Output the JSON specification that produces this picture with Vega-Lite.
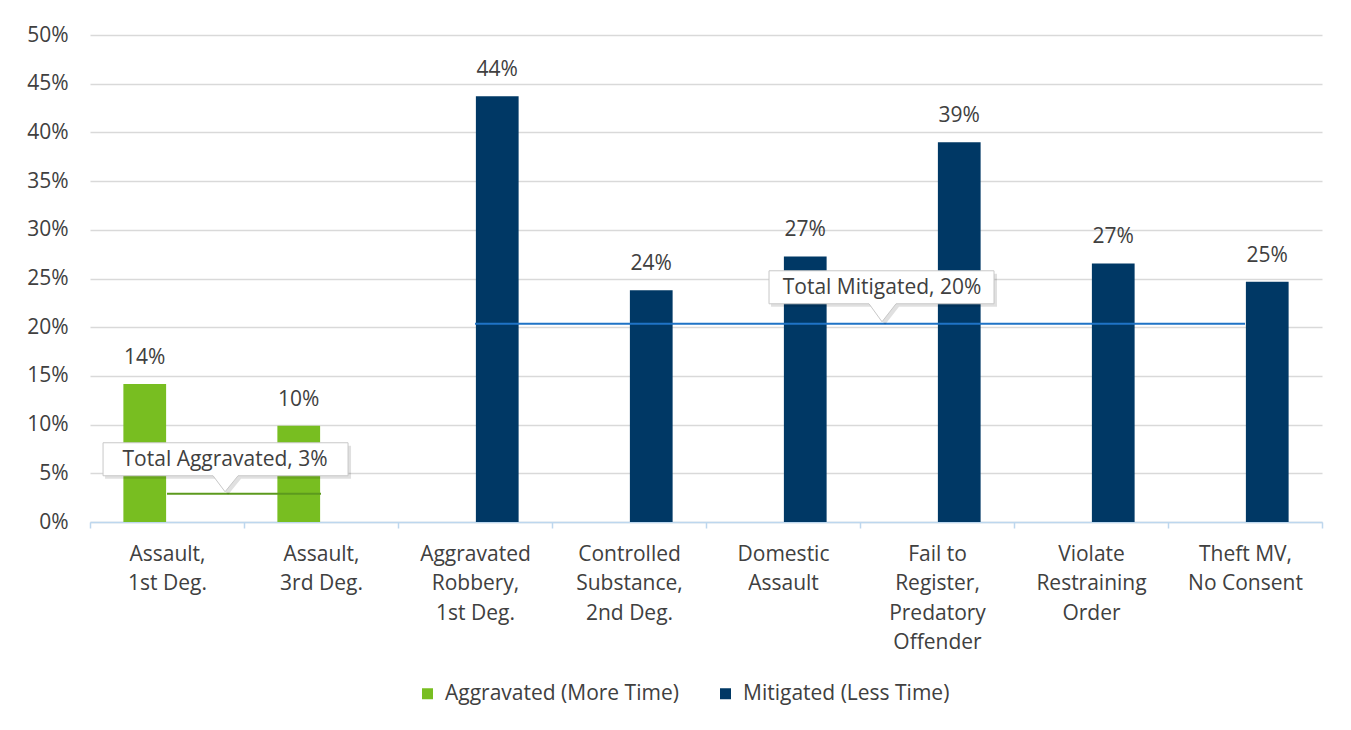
{
  "$schema": "https://vega.github.io/schema/vega-lite/v6.json",
  "width": 1232,
  "height": 487,
  "autosize": {"type": "none"},
  "padding": {"left": 90, "top": 35, "right": 29, "bottom": 208},
  "background": "white",
  "config": {"view": {"stroke": null}, "font": "Open Sans"},
  "datasets": {
    "bars": [
      {"category": "Assault,\n1st Deg.", "series": "Aggravated (More Time)", "value": 0.1417},
      {"category": "Assault,\n3rd Deg.", "series": "Aggravated (More Time)", "value": 0.0989},
      {"category": "Aggravated\nRobbery,\n1st Deg.", "series": "Mitigated (Less Time)", "value": 0.437},
      {"category": "Controlled\nSubstance,\n2nd Deg.", "series": "Mitigated (Less Time)", "value": 0.238},
      {"category": "Domestic\nAssault", "series": "Mitigated (Less Time)", "value": 0.2727},
      {"category": "Fail to\nRegister,\nPredatory\nOffender", "series": "Mitigated (Less Time)", "value": 0.39},
      {"category": "Violate\nRestraining\nOrder", "series": "Mitigated (Less Time)", "value": 0.2655},
      {"category": "Theft MV,\nNo Consent", "series": "Mitigated (Less Time)", "value": 0.2467}
    ],
    "totals": [
      {"category": "Assault,\n1st Deg.", "series": "Total Aggravated", "value": 0.029},
      {"category": "Assault,\n3rd Deg.", "series": "Total Aggravated", "value": 0.029},
      {"category": "Aggravated\nRobbery,\n1st Deg.", "series": "Total Mitigated", "value": 0.2035},
      {"category": "Controlled\nSubstance,\n2nd Deg.", "series": "Total Mitigated", "value": 0.2035},
      {"category": "Domestic\nAssault", "series": "Total Mitigated", "value": 0.2035},
      {"category": "Fail to\nRegister,\nPredatory\nOffender", "series": "Total Mitigated", "value": 0.2035},
      {"category": "Violate\nRestraining\nOrder", "series": "Total Mitigated", "value": 0.2035},
      {"category": "Theft MV,\nNo Consent", "series": "Total Mitigated", "value": 0.2035}
    ],
    "callouts": [
      {"category": "Assault,\n1st Deg.", "series": "Total Aggravated", "value": 0.029, "label": "Total Aggravated, 3%"},
      {"category": "Fail to\nRegister,\nPredatory\nOffender", "series": "Total Mitigated", "value": 0.2035, "label": "Total Mitigated, 20%"}
    ]
  },
  "encoding": {
    "x": {
      "field": "category",
      "type": "nominal",
      "scale": {
        "domain": ["Assault,\n1st Deg.", "Assault,\n3rd Deg.", "Aggravated\nRobbery,\n1st Deg.", "Controlled\nSubstance,\n2nd Deg.", "Domestic\nAssault", "Fail to\nRegister,\nPredatory\nOffender", "Violate\nRestraining\nOrder", "Theft MV,\nNo Consent"],
        "paddingInner": 0,
        "paddingOuter": 0
      },
      "axis": {
        "title": null,
        "labelAngle": 0,
        "labelExpr": "split(datum.label, '\\n')",
        "labelFont": "Open Sans",
        "labelFontSize": 21,
        "labelLineHeight": 29.5,
        "labelColor": "#404040",
        "labelPadding": 15,
        "labelLimit": 300,
        "tickBand": "extent",
        "tickSize": 6,
        "tickColor": "#BDD7EE",
        "tickWidth": 1.5,
        "domainColor": "#BDD7EE",
        "domainWidth": 1.5,
        "grid": false
      }
    },
    "y": {
      "field": "value",
      "type": "quantitative",
      "scale": {"domain": [0, 0.5]},
      "axis": {
        "title": null,
        "format": ".0%",
        "values": [0, 0.05, 0.1, 0.15, 0.2, 0.25, 0.3, 0.35, 0.4, 0.45, 0.5],
        "domain": false,
        "ticks": false,
        "tickSize": 0,
        "labelPadding": 22,
        "labelFont": "Open Sans",
        "labelFontSize": 21,
        "labelColor": "#404040",
        "gridColor": "#D9D9D9",
        "gridWidth": 1.5
      }
    }
  },
  "layer": [
    {
      "data": {"name": "bars"},
      "mark": {"type": "bar"},
      "encoding": {
        "xOffset": {
          "field": "series",
          "type": "nominal",
          "scale": {"domain": ["Aggravated (More Time)", "Mitigated (Less Time)"], "paddingInner": 0.04, "paddingOuter": 0.75}
        },
        "color": {
          "field": "series",
          "type": "nominal",
          "scale": {"domain": ["Aggravated (More Time)", "Mitigated (Less Time)"], "range": ["#78BE21", "#003865"]},
          "legend": {
            "orient": "none",
            "legendX": 327,
            "legendY": 648,
            "direction": "horizontal",
            "title": null,
            "symbolType": "square",
            "symbolSize": 121,
            "symbolStrokeWidth": 0,
            "labelFont": "Open Sans",
            "labelFontSize": 21,
            "labelColor": "#404040",
            "labelOffset": 7,
            "labelLimit": 400,
            "columnPadding": 36
          }
        }
      }
    },
    {
      "data": {"name": "bars"},
      "mark": {"type": "text", "dy": -20, "baseline": "alphabetic", "fontSize": 21, "color": "#404040", "font": "Open Sans"},
      "encoding": {
        "xOffset": {"field": "series", "type": "nominal"},
        "text": {"field": "value", "type": "quantitative", "format": ".0%"}
      }
    },
    {
      "data": {"name": "totals"},
      "mark": {"type": "line", "strokeWidth": 2},
      "encoding": {
        "stroke": {
          "field": "series",
          "type": "nominal",
          "scale": {"domain": ["Total Aggravated", "Total Mitigated"], "range": ["#5C9A1E", "#1F73C6"]},
          "legend": null
        }
      }
    },
    {
      "data": {"name": "callouts"},
      "transform": [{"filter": "datum.series === 'Total Aggravated'"}],
      "encoding": {
        "x": {"field": "category", "type": "nominal", "bandPosition": 0.877, "axis": {"title": null}}
      },
      "layer": [
        {
          "mark": {"type": "point", "filled": true, "fill": "#000000", "opacity": 0.12, "strokeWidth": 0, "size": 40000, "shape": "M-1.2,-0.48 L1.26,-0.48 L1.26,-0.15 L0.16,-0.15 L0.03,0.01 L-0.09,-0.15 L-1.2,-0.15 Z"}
        },
        {
          "mark": {"type": "point", "filled": true, "fill": "#FFFFFF", "stroke": "#C8C8C8", "strokeWidth": 1, "opacity": 1, "size": 40000, "shape": "M-1.22,-0.51 L1.23,-0.51 L1.23,-0.18 L0.13,-0.18 L0,-0.02 L-0.12,-0.18 L-1.22,-0.18 Z"}
        },
        {
          "mark": {"type": "text", "dy": -34, "baseline": "middle", "align": "center", "fontSize": 21, "color": "#404040", "font": "Open Sans"},
          "encoding": {"text": {"field": "label"}}
        }
      ]
    },
    {
      "data": {"name": "callouts"},
      "transform": [{"filter": "datum.series === 'Total Mitigated'"}],
      "encoding": {
        "x": {"field": "category", "type": "nominal", "bandPosition": 0.143, "axis": {"title": null}}
      },
      "layer": [
        {
          "mark": {"type": "point", "filled": true, "fill": "#000000", "opacity": 0.12, "strokeWidth": 0, "size": 40000, "shape": "M-1.11,-0.5 L1.15,-0.5 L1.15,-0.17 L0.17,-0.17 L0.03,0.01 L-0.1,-0.17 L-1.11,-0.17 Z"}
        },
        {
          "mark": {"type": "point", "filled": true, "fill": "#FFFFFF", "stroke": "#C8C8C8", "strokeWidth": 1, "opacity": 1, "size": 40000, "shape": "M-1.13,-0.53 L1.12,-0.53 L1.12,-0.2 L0.14,-0.2 L0,-0.02 L-0.13,-0.2 L-1.13,-0.2 Z"}
        },
        {
          "mark": {"type": "text", "dy": -36, "baseline": "middle", "align": "center", "fontSize": 21, "color": "#404040", "font": "Open Sans"},
          "encoding": {"text": {"field": "label"}}
        }
      ]
    }
  ]
}
